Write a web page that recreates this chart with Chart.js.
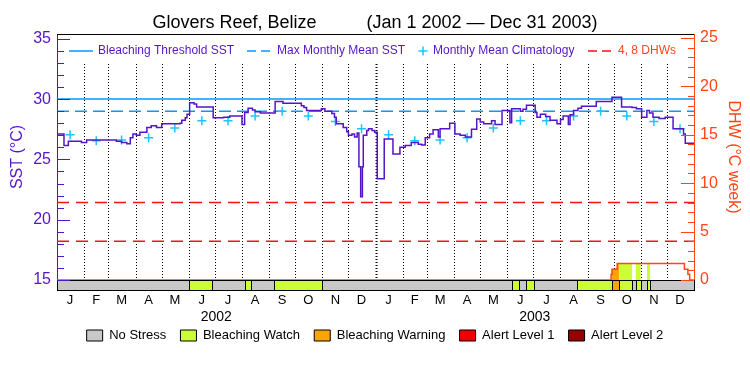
<!DOCTYPE html>
<html>
<head>
<meta charset="utf-8">
<script src="https://cdn.jsdelivr.net/npm/chart.js@4.4.1/dist/chart.umd.min.js"></script>
<style>
  html, body { margin: 0; padding: 0; background: #fff; }
  canvas { display: block; }
</style>
</head>
<body>
<canvas id="chart" width="750" height="375"></canvas>
<script>
// values, day 0 = Jan 1 2002
const sstDay = [0,8,13,28,34,68,74,80,84,87,91,95,103,108,114,120,141,143,147,149,152,157,160,179,191,198,212,215,219,224,227,233,250,259,280,283,286,303,307,315,318,320,328,332,334,338,341,344,346,348,350,351,355,357,361,364,
  367,375,385,393,399,406,414,418,422,427,431,437,439,450,456,462,468,475,481,485,489,498,502,510,519,521,531,534,538,548,550,554,560,565,573,577,580,586,588,592,597,601,618,636,647,659,664,670,676,679,683,690,697,706,718,720,730];
const sstValue = [27.1,26.15,26.5,26.4,26.6,26.5,26.4,26.3,26.8,27.1,27.0,27.25,27.65,27.8,27.65,27.95,28.0,28.25,28.45,28.75,29.7,29.6,29.35,28.45,28.5,28.6,27.9,28.9,29.25,29.1,28.95,28.85,29.8,29.65,29.45,29.3,29.05,29.2,29.0,28.8,28.5,27.95,27.65,27.3,27.0,27.1,26.85,27.2,24.4,21.9,24.4,27.0,27.4,27.55,27.4,27.25,
  23.4,26.7,25.45,26.0,26.15,26.4,26.25,26.2,26.8,27.1,27.45,26.85,27.55,28.0,27.1,27.0,26.85,27.5,28.35,28.1,27.95,28.2,27.9,29.05,28.05,29.2,29.0,29.15,29.5,28.9,28.5,28.75,28.55,28.25,27.95,28.3,28.6,27.9,28.7,29.05,29.25,29.4,29.8,30.15,29.35,29.3,29.2,28.5,29.05,28.85,28.5,28.4,28.5,27.55,27.1,26.35,26.35];

const monthMid = [15,45,74,105,135,166,196,227,258,288,319,349,380,410,439,470,500,531,561,592,623,653,684,714];
const monthLetters = ['J','F','M','A','M','J','J','A','S','O','N','D'];
const monthStart = [31,59,90,120,151,181,212,243,273,304,334,365,396,424,455,485,516,546,577,608,638,669,699];
const climMonthly = [27.05,26.55,26.6,26.8,27.6,28.2,28.2,28.6,29.0,28.6,28.15,27.55];
const yearMid = [182.5,547.5];
const yearLabels = ['2002','2003'];

const bleachThreshold = 30.0;
const maxMonthlyMean = 29.0;
const dhwLevels = [4, 8];

const dhwDay = [0,635,636,642,719,723,725,730];
const dhwValue = [0,0.6,1.1,1.7,1.1,0.6,0,0];

const statusStart = [0,151,178,215,222,249,304,522,529,537,547,596,636,644,659,663,669,676,680];
const statusLevel = [0,1,0,1,0,1,0,1,0,1,0,1,2,1,0,1,0,1,0];
const statusNames = ['No Stress','Bleaching Watch','Bleaching Warning','Alert Level 1','Alert Level 2'];
const statusColors = ['#c8c8c8','#ccff33','#faa500','#f00000','#960000'];

const purple = '#5514c8';
const cyan = '#0a96ff';
const plusCyan = '#1ec3ff';
const red = '#f01414';
const orange = '#ff4614';
const fam = '"Liberation Sans", Arial, sans-serif';

Chart.defaults.font.family = fam;

const pts = (xs, ys) => xs.map((d, i) => ({x: d, y: ys[i]}));
const dayEnd = 730;

const segments = statusStart.map((s, i) => ({
  start: s,
  end: i < statusStart.length - 1 ? statusStart[i + 1] : dayEnd,
  level: statusLevel[i]
}));

function dhwAt(d) {
  let v = 0;
  dhwDay.forEach((s, i) => { if (s <= d) v = dhwValue[i]; });
  return v;
}

const climData = monthMid.map((d, i) => ({x: d, y: climMonthly[i % 12]}));

const datasets = [
  {data: pts(sstDay, sstValue), borderColor: purple, borderWidth: 1.5, stepped: true, pointRadius: 0, order: 0},
  {data: climData, showLine: false, pointStyle: 'cross', pointRadius: 4.5, borderColor: plusCyan, borderWidth: 1.5, order: 1},
  {data: [{x: 0, y: bleachThreshold}, {x: dayEnd, y: bleachThreshold}], borderColor: cyan, borderWidth: 1.5, pointRadius: 0, order: 2},
  {data: [{x: 0, y: maxMonthlyMean}, {x: dayEnd, y: maxMonthlyMean}], borderColor: cyan, borderWidth: 1.5, borderDash: [12, 6], pointRadius: 0, order: 2},
  {data: pts(dhwDay, dhwValue), yAxisID: 'y2', borderColor: orange, borderWidth: 1.5, stepped: true, pointRadius: 0, order: 3}
];
dhwLevels.forEach(v => datasets.push({
  data: [{x: 0, y: v}, {x: dayEnd, y: v}], yAxisID: 'y2', borderColor: red, borderWidth: 1.5,
  borderDash: [12, 7], pointRadius: 0, order: 3
}));
// fill under the DHW curve, coloured by the stress level of each period
segments.forEach(seg => {
  if (!seg.level) return;
  const data = [{x: seg.start, y: dhwAt(seg.start)}];
  dhwDay.forEach((d, i) => { if (d > seg.start && d < seg.end) data.push({x: d, y: dhwValue[i]}); });
  data.push({x: seg.end, y: dhwAt(seg.end)});
  datasets.push({data, yAxisID: 'y2', stepped: true, pointRadius: 0, borderWidth: 0,
    borderColor: 'rgba(0,0,0,0)', backgroundColor: statusColors[seg.level], fill: 'origin', order: 5});
});

const decorations = {
  id: 'decorations',
  beforeDatasetsDraw(chart) {
    const {ctx, chartArea: a, scales: {x}} = chart;
    ctx.save();
    ctx.strokeStyle = '#000';
    ctx.setLineDash([1, 2]);
    monthStart.forEach(d => {
      const px = Math.round(x.getPixelForValue(d)) + 0.5;
      ctx.lineWidth = d === 365 ? 2 : 1;
      ctx.beginPath();
      ctx.moveTo(px, a.top + 30);
      ctx.lineTo(px, a.bottom);
      ctx.stroke();
    });
    ctx.restore();
  },
  afterDatasetsDraw(chart) {
    const {ctx, chartArea: a, scales: {x, y, y2}} = chart;
    ctx.save();
    // stress status bar under the plot
    ctx.lineWidth = 1;
    ctx.strokeStyle = '#000';
    segments.forEach(seg => {
      const x0 = Math.round(x.getPixelForValue(seg.start)) + 0.5;
      const x1 = Math.round(x.getPixelForValue(seg.end)) + 0.5;
      ctx.fillStyle = statusColors[seg.level];
      ctx.fillRect(x0, a.bottom + 0.5, x1 - x0, 10);
      ctx.strokeRect(x0, a.bottom + 0.5, x1 - x0, 10);
    });
    // top frame line
    ctx.beginPath();
    ctx.moveTo(a.left, Math.round(a.top) + 0.5);
    ctx.lineTo(a.right, Math.round(a.top) + 0.5);
    ctx.stroke();
    // inward tick marks
    ctx.strokeStyle = purple;
    for (let v = 15; v <= 35; v++) {
      const py = Math.round(y.getPixelForValue(v)) + 0.5;
      ctx.beginPath();
      ctx.moveTo(a.left, py);
      ctx.lineTo(a.left + (v % 5 ? 7 : 13), py);
      ctx.stroke();
    }
    ctx.strokeStyle = orange;
    for (let v = 0; v <= 25; v++) {
      const py = Math.round(y2.getPixelForValue(v)) + 0.5;
      ctx.beginPath();
      ctx.moveTo(a.right, py);
      ctx.lineTo(a.right - (v % 5 ? 6 : 13), py);
      ctx.stroke();
    }
    ctx.restore();
  },
  afterDraw(chart) {
    const {ctx, chartArea: a} = chart;
    const ly = a.top + 17;
    ctx.save();
    ctx.font = '12px ' + fam;
    ctx.textBaseline = 'middle';
    ctx.lineWidth = 1.5;
    const seg = (x0, x1, color, dash) => {
      ctx.strokeStyle = color;
      ctx.setLineDash(dash);
      ctx.beginPath();
      ctx.moveTo(a.left + x0, ly);
      ctx.lineTo(a.left + x1, ly);
      ctx.stroke();
      ctx.setLineDash([]);
    };
    seg(12, 36, cyan, []);
    seg(190, 213, cyan, [9, 5]);
    seg(531, 555, red, [9, 5]);
    ctx.strokeStyle = plusCyan;
    ctx.beginPath();
    ctx.moveTo(a.left + 361.5, ly); ctx.lineTo(a.left + 370.5, ly);
    ctx.moveTo(a.left + 366, ly - 4.5); ctx.lineTo(a.left + 366, ly + 4.5);
    ctx.stroke();
    ctx.fillStyle = purple;
    ctx.fillText('Bleaching Threshold SST', a.left + 41, ly);
    ctx.fillText('Max Monthly Mean SST', a.left + 220, ly);
    ctx.fillText('Monthly Mean Climatology', a.left + 376, ly);
    ctx.fillStyle = orange;
    ctx.fillText('4, 8 DHWs', a.left + 561, ly);
    ctx.restore();
  }
};

new Chart(document.getElementById('chart'), {
  type: 'line',
  data: {datasets},
  plugins: [decorations],
  options: {
    responsive: false,
    animation: false,
    devicePixelRatio: 1,
    layout: {padding: {left: 0, right: 0, top: 0, bottom: 23}},
    plugins: {
      title: {
        display: true,
        text: 'Glovers Reef, Belize          (Jan 1 2002 \u2014 Dec 31 2003)',
        color: '#000',
        font: {size: 18, weight: 'normal'},
        padding: {top: 12, bottom: 0.4}
      },
      legend: {
        position: 'bottom',
        onClick: null,
        labels: {
          boxWidth: 16, boxHeight: 11, padding: 7, color: '#000',
          font: {size: 13},
          // trailing spaces keep the wide gaps between items
          generateLabels: () => statusNames.map((t, i) => ({
            text: i < statusNames.length - 1 ? t + '  ' : t, fillStyle: statusColors[i], strokeStyle: '#000', lineWidth: 1, hidden: false, datasetIndex: i
          }))
        }
      },
      tooltip: {enabled: false}
    },
    scales: {
      x: {
        type: 'linear', position: 'bottom', min: 0, max: dayEnd, weight: 0,
        afterBuildTicks: s => { s.ticks = monthMid.map(v => ({value: v})); },
        ticks: {callback: (v, i) => monthLetters[i % 12], autoSkip: false, maxRotation: 0, padding: 14, color: '#000', font: {size: 13, lineHeight: 1}},
        grid: {display: false, drawTicks: false},
        border: {display: false},
        afterFit: s => { s.height = 28; }
      },
      x2: {
        type: 'linear', axis: 'x', position: 'bottom', min: 0, max: dayEnd, weight: 1,
        afterBuildTicks: s => { s.ticks = yearMid.map(v => ({value: v})); },
        ticks: {callback: (v, i) => yearLabels[i], autoSkip: false, maxRotation: 0, padding: 2, color: '#000', font: {size: 14, lineHeight: 1}},
        grid: {display: false, drawTicks: false},
        border: {display: false},
        afterFit: s => { s.height = 14; }
      },
      y: {
        type: 'linear', position: 'left', min: 15, max: 35.4,
        ticks: {stepSize: 5, includeBounds: false, color: purple, font: {size: 16}, padding: 6},
        grid: {display: false, drawTicks: false},
        border: {display: true, color: purple, width: 1},
        title: {display: true, text: 'SST (\u00b0C)', color: purple, font: {size: 16}, padding: {top: 8, bottom: 0}},
        afterFit: s => { s.width = 57; }
      },
      y2: {
        type: 'linear', position: 'right', min: 0, max: 25.4,
        ticks: {stepSize: 5, includeBounds: false, color: orange, font: {size: 16}, padding: 6},
        grid: {display: false, drawTicks: false},
        border: {display: true, color: orange, width: 1},
        title: {display: true, text: 'DHW (\u00b0C week)', color: orange, font: {size: 16}, padding: {top: 7.4, bottom: 0}},
        afterFit: s => { s.width = 56; }
      }
    }
  }
});
</script>
</body>
</html>
